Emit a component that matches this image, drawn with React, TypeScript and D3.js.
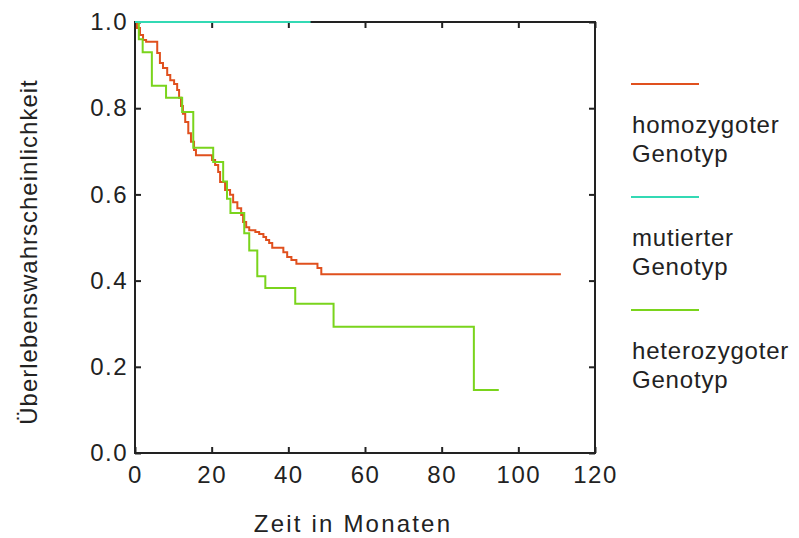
import React, { useEffect, useRef } from "react";
import * as d3 from "d3";

// Kaplan-Meier steps (months, survival)
const homoTimes = [0, 0.5, 1.3, 2.1, 2.9, 5.8, 6.5, 7.3, 8.4, 9.2, 10.2, 11.0, 11.5, 12.0, 12.5, 13.1, 13.9, 14.6, 15.4, 15.9, 20.1, 20.9, 21.7, 22.2, 23.5, 24.8, 25.6, 26.7, 27.7, 28.2, 29.0, 29.8, 31.4, 32.4, 33.5, 34.2, 35.0, 35.8, 38.7, 39.7, 40.8, 42.1, 47.6, 48.6, 111.1];
const homoSurv = [1.0, 0.986, 0.97, 0.958, 0.954, 0.928, 0.905, 0.893, 0.877, 0.865, 0.856, 0.842, 0.824, 0.805, 0.787, 0.768, 0.742, 0.722, 0.703, 0.691, 0.68, 0.668, 0.652, 0.629, 0.61, 0.599, 0.582, 0.568, 0.552, 0.536, 0.524, 0.517, 0.513, 0.508, 0.501, 0.494, 0.487, 0.476, 0.466, 0.455, 0.448, 0.439, 0.429, 0.415, 0.415];

const mutTimes = [0, 45.8];
const mutSurv = [1.0, 1.0];

const heteroTimes = [0, 1.0, 2.0, 4.4, 8.1, 12.3, 15.2, 20.4, 23.0, 24.0, 24.9, 28.5, 29.8, 31.9, 34.0, 41.8, 51.8, 88.4, 94.9];
const heteroSurv = [1.0, 0.96, 0.93, 0.852, 0.824, 0.791, 0.708, 0.675, 0.63, 0.59, 0.557, 0.51, 0.47, 0.41, 0.383, 0.346, 0.293, 0.146, 0.146];

const xTicks = [0, 20, 40, 60, 80, 100, 120];
const yTicks = [0, 0.2, 0.4, 0.6, 0.8, 1.0];

const seriesNames = [["homozygoter", "Genotyp"], ["mutierter", "Genotyp"], ["heterozygoter", "Genotyp"]];
const seriesColors = ["#e0501e", "#33d9b4", "#7ad41c"];

const W = 799;
const H = 538;
const margin = { left: 135, top: 22, right: 204, bottom: 85 };
const font = "'Liberation Sans', Arial, sans-serif";

function App() {
  const svgRef = useRef<SVGSVGElement>(null);

  useEffect(() => {
    const svg = d3.select(svgRef.current);
    svg.selectAll("*").remove();

    const innerW = W - margin.left - margin.right;
    const innerH = H - margin.top - margin.bottom;

    const x = d3.scaleLinear().domain([0, 120]).range([0, innerW]);
    const y = d3.scaleLinear().domain([0, 1]).range([innerH, 0]);

    const g = svg.append("g").attr("transform", `translate(${margin.left},${margin.top})`);

    // axes, ticks pointing inward on every side
    const bottom = g.append("g").attr("transform", `translate(0,${innerH})`)
      .call(d3.axisBottom(x).tickValues(xTicks).tickSize(-6).tickSizeOuter(0).tickPadding(13));
    const left = g.append("g")
      .call(d3.axisLeft(y).tickValues(yTicks).tickFormat(d3.format(".1f")).tickSize(-6).tickSizeOuter(0).tickPadding(7));
    g.append("g")
      .call(d3.axisTop(x).tickValues(xTicks).tickFormat(() => "").tickSize(-6).tickSizeOuter(0));
    g.append("g").attr("transform", `translate(${innerW},0)`)
      .call(d3.axisRight(y).tickValues(yTicks).tickFormat(() => "").tickSize(-6).tickSizeOuter(0));

    g.selectAll(".domain").remove();
    g.selectAll(".tick line").attr("stroke", "#222").attr("stroke-width", 2);
    [bottom, left].forEach((a) =>
      a.selectAll("text").attr("font-family", font).attr("font-size", 24).attr("fill", "#222").attr("letter-spacing", 1.5)
    );

    g.append("rect").attr("width", innerW).attr("height", innerH)
      .attr("fill", "none").attr("stroke", "#222").attr("stroke-width", 2);

    const line = d3.line<[number, number]>()
      .x((d) => x(d[0]))
      .y((d) => y(d[1]))
      .curve(d3.curveStepAfter);

    const series = [
      { times: homoTimes, surv: homoSurv, color: seriesColors[0] },
      { times: heteroTimes, surv: heteroSurv, color: seriesColors[2] },
      { times: mutTimes, surv: mutSurv, color: seriesColors[1] },
    ];
    series.forEach((s) => {
      const pts = s.times.map((t, i) => [t, s.surv[i]] as [number, number]);
      g.append("path").attr("d", line(pts)).attr("fill", "none")
        .attr("stroke", s.color).attr("stroke-width", 2);
    });

    // axis titles
    svg.append("text").attr("x", margin.left + innerW / 2 - 12).attr("y", 532)
      .attr("text-anchor", "middle").attr("font-family", font).attr("font-size", 24)
      .attr("letter-spacing", 2.2).attr("fill", "#222").text("Zeit in Monaten");
    svg.append("text").attr("transform", `translate(37,${252}) rotate(-90)`)
      .attr("text-anchor", "middle").attr("font-family", font).attr("font-size", 24)
      .attr("letter-spacing", 1).attr("fill", "#222").text("Überlebenswahrscheinlichkeit");

    // legend
    const leg = svg.append("g").attr("transform", "translate(631,84)");
    seriesNames.forEach((name, i) => {
      const item = leg.append("g").attr("transform", `translate(0,${i * 113})`);
      item.append("line").attr("x1", 0).attr("x2", 68).attr("stroke", seriesColors[i]).attr("stroke-width", 2);
      name.forEach((ln, j) => {
        item.append("text").attr("x", 1).attr("y", 49 + j * 29)
          .attr("font-family", font).attr("font-size", 24).attr("letter-spacing", 0.8)
          .attr("fill", "#222").text(ln);
      });
    });
  }, []);

  return (
    <svg ref={svgRef} width={W} height={H}
      style={{ position: "absolute", left: 0, top: 0, background: "#fff" }} />
  );
}

export default App;
